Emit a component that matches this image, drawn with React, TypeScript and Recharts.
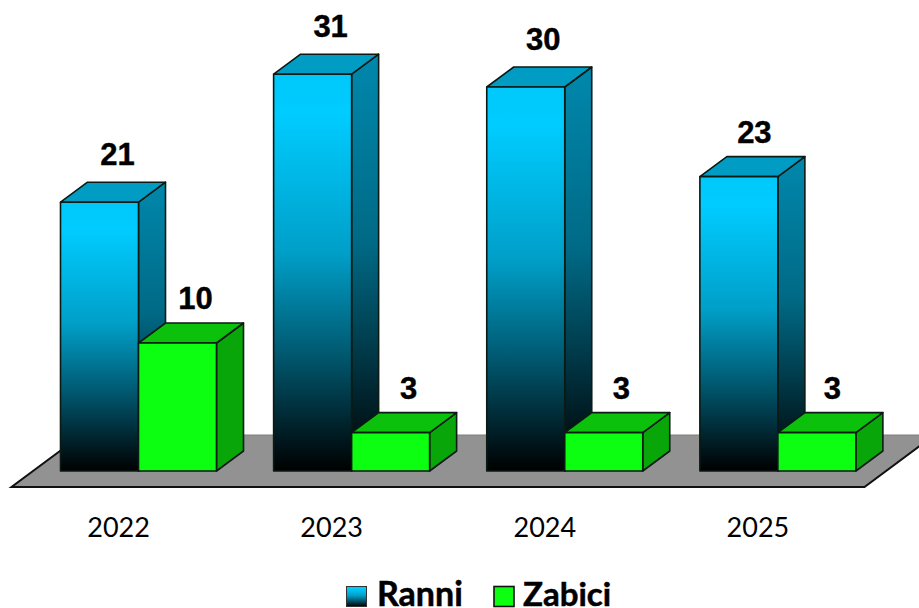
import React from 'react';
import { BarChart, Bar, XAxis, YAxis, LabelList, usePlotArea } from 'recharts';

const years = ['2022', '2023', '2024', '2025'];
const ranni = [21, 31, 30, 23];
const zabici = [10, 3, 3, 3];
const seriesNames = ['Ranni', 'Zabici'];

const chartData = years.map((year, i) => ({ year, ranni: ranni[i], zabici: zabici[i] }));

const DEPTH_X = 27;
const DEPTH_Y = 20;
const sans = '"Liberation Sans", Arial, sans-serif';
const lato = 'Lato, "Open Sans", sans-serif';

// 3D box: front face + top + right side, same look as the old Excel column
const Box = (props: any) => {
  const { x, y, width, height, front, side, top } = props;
  const r = x + width;
  const b = y + height;
  return (
    <g stroke="#0c1a14" strokeWidth={1.6} strokeLinejoin="round">
      <polygon fill={side} points={`${r},${y} ${r + DEPTH_X},${y - DEPTH_Y} ${r + DEPTH_X},${b - DEPTH_Y} ${r},${b}`} />
      <polygon fill={top} points={`${x},${y} ${x + DEPTH_X},${y - DEPTH_Y} ${r + DEPTH_X},${y - DEPTH_Y} ${r},${y}`} />
      <rect x={x} y={y} width={width} height={height} fill={front} />
    </g>
  );
};

const BlueBox = (props: any) => <Box {...props} front="url(#blueFront)" side="url(#blueSide)" top="#009cc4" />;
const GreenBox = (props: any) => <Box {...props} front="#0cff10" side="#09a609" top="#0bc10b" />;

// labels in the original sit a little unevenly, so nudge by year
const ValueLabel = (props: any) => {
  const { x, y, width, value, index, lift } = props;
  const shiftX = index === 3 ? -2.5 : index === 2 ? -0.5 : 0;
  const shiftY = index === 3 && lift === 37 ? 3 : 0;
  return (
    <text x={x + width / 2 + 18 + shiftX} y={y - lift + shiftY} textAnchor="middle" fontFamily={sans} fontWeight={700} fontSize={31} fill="#000" stroke="#000" strokeWidth={0.4}>
      {value}
    </text>
  );
};

const YearTick = (props: any) => {
  const { x, y, payload } = props;
  return (
    <text x={x - 19.5} y={y + 58} textAnchor="middle" fontFamily={lato} fontSize={27} fill="#000">
      {payload.value}
    </text>
  );
};

// grey floor under the columns
const Floor = () => {
  const area = usePlotArea();
  if (!area) return null;
  const front = area.y + area.height + 16;
  const back = front - 52;
  const left = area.x - 20;
  const right = area.x + area.width - 19.5;
  return (
    <g>
      <polygon fill="#929292" stroke="#7d7d7d" points={`${left},${front} ${left + 70},${back} ${right + 70},${back} ${right},${front}`} />
      <polyline fill="none" stroke="#111" strokeWidth={2} points={`${left + 70},${back} ${left},${front} ${right},${front} ${right + 70},${back}`} />
    </g>
  );
};

const LegendRow = () => (
  <g>
    <rect x={346.5} y={586.5} width={20} height={20} fill="url(#blueFront)" stroke="#333" />
    <text x={377} y={606} fontFamily={lato} fontWeight={700} fontSize={34} fill="#000" stroke="#000" strokeWidth={0.5}>{seriesNames[0]}</text>
    <rect x={494} y={586.5} width={20} height={20} fill="#0cff10" stroke="#111" strokeWidth={1.6} />
    <text x={523} y={606} fontFamily={lato} fontWeight={700} fontSize={33} fill="#000" stroke="#000" strokeWidth={0.5}>{seriesNames[1]}</text>
  </g>
);

export default function App() {
  return (
    <div style={{ position: 'absolute', left: 0, top: 0, width: 919, height: 608, background: '#fff' }}>
      <BarChart
        width={919}
        height={608}
        data={chartData}
        barSize={78}
        barGap={0}
        margin={{ top: 23, right: 35, bottom: 107, left: 31.5 }}
      >
        <defs>
          <linearGradient id="blueFront" x1="0" y1="0" x2="0" y2="1">
            <stop offset="0" stopColor="#00c8fa" />
            <stop offset="0.1" stopColor="#00ccff" />
            <stop offset="0.45" stopColor="#009fc8" />
            <stop offset="0.7" stopColor="#005a72" />
            <stop offset="1" stopColor="#000000" />
          </linearGradient>
          <linearGradient id="blueSide" x1="0" y1="0" x2="0" y2="1">
            <stop offset="0" stopColor="#0088ad" />
            <stop offset="0.45" stopColor="#006a86" />
            <stop offset="0.7" stopColor="#003c4c" />
            <stop offset="1" stopColor="#000000" />
          </linearGradient>
        </defs>
        <Floor />
        <XAxis dataKey="year" axisLine={false} tickLine={false} tick={<YearTick />} interval={0} />
        <YAxis hide domain={[0, 35]} />
        <Bar dataKey="ranni" name={seriesNames[0]} shape={<BlueBox />} isAnimationActive={false}>
          <LabelList dataKey="ranni" content={<ValueLabel lift={37} />} />
        </Bar>
        <Bar dataKey="zabici" name={seriesNames[1]} shape={<GreenBox />} isAnimationActive={false}>
          <LabelList dataKey="zabici" content={<ValueLabel lift={34} />} />
        </Bar>
        <LegendRow />
      </BarChart>
    </div>
  );
}
